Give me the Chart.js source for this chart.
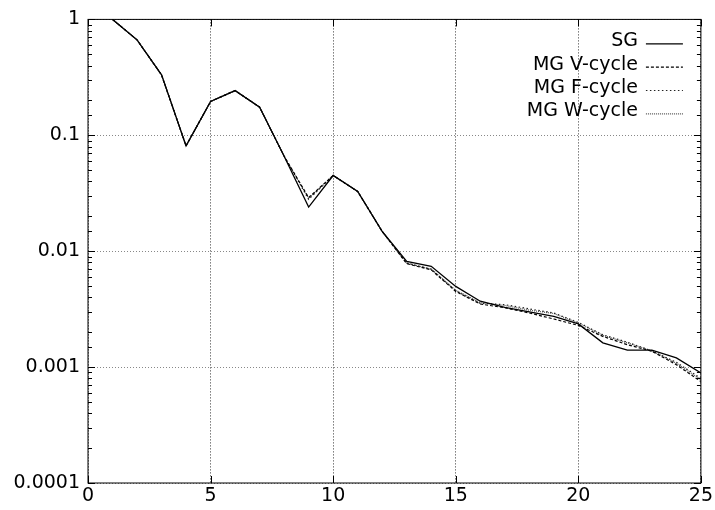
<!DOCTYPE html>
<html>
<head>
<meta charset="utf-8">
<script src="https://cdn.jsdelivr.net/npm/chart.js@4.4.0/dist/chart.umd.min.js"></script>
<style>
  body { margin: 0; background: #fff; }
  #wrap { width: 715px; height: 510px; position: relative; }
</style>
</head>
<body>
<div id="wrap"><canvas id="chart"></canvas></div>
<script>
// iterations on the x axis
const iterations = [1, 2, 3, 4, 5, 6, 7, 8, 9, 10, 11, 12, 13, 14, 15, 16, 17, 18, 19, 20, 21, 22, 23, 24, 25];

// residuals
const sg     = [1, 0.666, 0.332, 0.081, 0.196, 0.243, 0.175, 0.066, 0.0240, 0.0450, 0.0328, 0.0148, 0.00817, 0.0074, 0.00497, 0.0037, 0.00328, 0.00299, 0.00274, 0.00236, 0.00162, 0.00140, 0.00140, 0.00120, 0.00089];
const mgV    = [1, 0.666, 0.332, 0.081, 0.196, 0.243, 0.175, 0.066, 0.0290, 0.0450, 0.0328, 0.0148, 0.00780, 0.0069, 0.00450, 0.0035, 0.00325, 0.00293, 0.00260, 0.00229, 0.00184, 0.00156, 0.00137, 0.00105, 0.00075];
const mgF    = [1, 0.666, 0.332, 0.081, 0.196, 0.243, 0.175, 0.066, 0.0280, 0.0450, 0.0328, 0.0148, 0.00790, 0.0070, 0.00455, 0.00355, 0.00346, 0.00318, 0.00293, 0.00243, 0.00190, 0.00164, 0.00138, 0.00110, 0.00080];
const mgW    = [1, 0.666, 0.332, 0.081, 0.196, 0.243, 0.175, 0.066, 0.0285, 0.0450, 0.0328, 0.0148, 0.00790, 0.0070, 0.00460, 0.0036, 0.00340, 0.00310, 0.00290, 0.00240, 0.00188, 0.00162, 0.00138, 0.00108, 0.00078];

const seriesNames = ['SG', 'MG V-cycle', 'MG F-cycle', 'MG W-cycle'];
const yTickValues = [0.0001, 0.001, 0.01, 0.1, 1];
const yTickLabels = ['0.0001', '0.001', '0.01', '0.1', '1'];

const FONT = "'DejaVu Sans', sans-serif";

const isDecade = (v) => Math.abs(Math.log10(v) - Math.round(Math.log10(v))) < 1e-6;

const toPoints = (arr) => iterations.map((x, i) => ({ x: x, y: arr[i] }));

// frame, inward tick marks and the legend in the top right corner
const framePlugin = {
  id: 'frame',
  afterDraw(chart) {
    const { ctx, chartArea: a, scales } = chart;
    ctx.save();
    ctx.strokeStyle = '#000';
    ctx.lineWidth = 1;
    ctx.setLineDash([]);
    ctx.strokeRect(a.left, a.top, a.right - a.left, a.bottom - a.top);

    ctx.beginPath();
    scales.y.ticks.forEach(t => {
      const y = Math.round(scales.y.getPixelForValue(t.value)) + 0.5;
      const len = isDecade(t.value) ? 7 : 4;
      ctx.moveTo(a.left, y); ctx.lineTo(a.left + len, y);
      ctx.moveTo(a.right, y); ctx.lineTo(a.right - len, y);
    });
    scales.x.ticks.forEach(t => {
      const x = Math.round(scales.x.getPixelForValue(t.value)) + 0.5;
      ctx.moveTo(x, a.bottom); ctx.lineTo(x, a.bottom - 7);
      ctx.moveTo(x, a.top); ctx.lineTo(x, a.top + 7);
    });
    ctx.stroke();

    // legend
    ctx.font = '19px ' + FONT;
    ctx.textAlign = 'right';
    ctx.textBaseline = 'middle';
    chart.data.datasets.forEach((ds, i) => {
      const cy = a.top + 22 + i * 23.3;
      ctx.fillStyle = '#000';
      ctx.fillText(ds.label, a.right - 63, cy);
      ctx.beginPath();
      ctx.strokeStyle = ds.borderColor;
      ctx.lineWidth = ds.borderWidth;
      ctx.setLineDash(ds.borderDash || []);
      ctx.moveTo(a.right - 55, cy + 2.5);
      ctx.lineTo(a.right - 18, cy + 2.5);
      ctx.stroke();
    });
    ctx.restore();
  }
};

new Chart(document.getElementById('chart'), {
  type: 'line',
  data: {
    datasets: [
      { label: seriesNames[0], data: toPoints(sg),  borderColor: '#000', borderWidth: 1.3, borderDash: [] },
      { label: seriesNames[1], data: toPoints(mgV), borderColor: '#000', borderWidth: 1.2, borderDash: [3, 2] },
      { label: seriesNames[2], data: toPoints(mgF), borderColor: '#222', borderWidth: 1.2, borderDash: [1.5, 2.5] },
      { label: seriesNames[3], data: toPoints(mgW), borderColor: '#555', borderWidth: 1.2, borderDash: [1, 1] }
    ]
  },
  options: {
    responsive: true,
    maintainAspectRatio: false,
    animation: false,
    events: [],
    elements: { point: { radius: 0 }, line: { tension: 0, fill: false } },
    layout: { padding: { left: 0, right: 14, top: 19, bottom: 0 } },
    plugins: { legend: { display: false }, tooltip: { enabled: false } },
    scales: {
      x: {
        type: 'linear',
        min: 0,
        max: 25,
        ticks: { stepSize: 5, color: '#000', font: { family: FONT, size: 19 }, padding: 2, maxRotation: 0 },
        grid: { color: '#333', lineWidth: 1, drawTicks: false },
        border: { display: false, dash: [1, 2] },
        afterFit: (s) => { s.height = 27; }
      },
      y: {
        type: 'logarithmic',
        min: 0.0001,
        max: 1,
        ticks: {
          autoSkip: false,
          color: '#000',
          font: { family: FONT, size: 19 },
          padding: 8,
          callback: (v) => {
            const i = yTickValues.findIndex(t => Math.abs(t - v) / t < 1e-6);
            return i >= 0 ? yTickLabels[i] : '';
          }
        },
        grid: {
          drawTicks: false,
          lineWidth: 1,
          color: (c) => (c.tick && isDecade(c.tick.value)) ? '#888' : 'rgba(0,0,0,0)'
        },
        border: { display: false, dash: [1, 2] },
        afterFit: (s) => { s.width = 88; }
      }
    }
  },
  plugins: [framePlugin]
});
</script>
</body>
</html>
